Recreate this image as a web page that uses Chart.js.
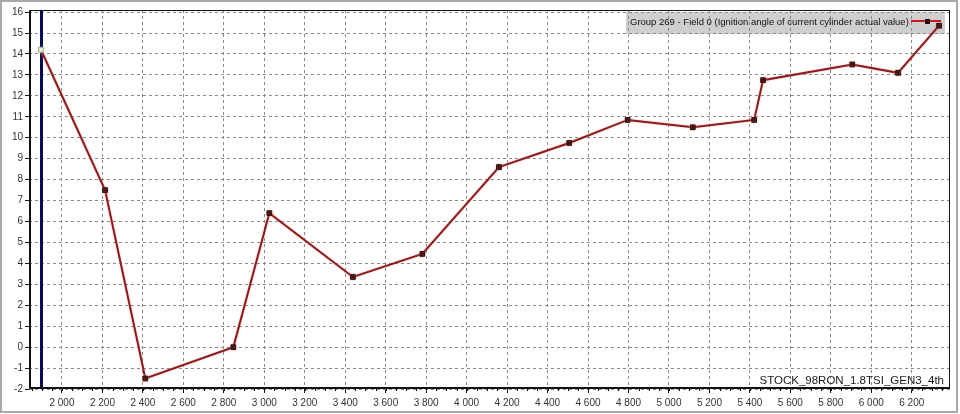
<!DOCTYPE html>
<html>
<head>
<meta charset="utf-8">
<script src="https://cdn.jsdelivr.net/npm/chart.js@4.4.0/dist/chart.umd.min.js"></script>
<style>
	body { margin: 0; background: #fff; }
	canvas { display: block; }
</style>
</head>
<body>
<canvas id="myChart" width="960" height="414"></canvas>
<script>
// engine speed (rpm) and ignition angle
var rpm = [1896, 2213, 2412, 2847, 3025, 3438, 3781, 4160, 4507, 4796, 5118, 5421, 5465, 5906, 6132, 6335];
var ignitionAngle = [14.2, 7.5, -1.5, 0.0, 6.4, 3.35, 4.45, 8.6, 9.75, 10.85, 10.5, 10.85, 12.75, 13.5, 13.1, 15.35];

var xTicks = [2000, 2200, 2400, 2600, 2800, 3000, 3200, 3400, 3600, 3800, 4000, 4200, 4400, 4600, 4800, 5000, 5200, 5400, 5600, 5800, 6000, 6200];
var yTicks = [-2, -1, 0, 1, 2, 3, 4, 5, 6, 7, 8, 9, 10, 11, 12, 13, 14, 15, 16];

var legendLabel = "Group 269 - Field 0 (Ignition angle of current cylinder actual value)";
var runLabel = "STOCK_98RON_1.8TSI_GEN3_4th";
var cursorRpm = rpm[0];

var FONT = "'Liberation Sans', Arial, sans-serif";

function fmtRpm(v) {
	return String(v).replace(/\B(?=(\d{3})+(?!\d))/g, " ");
}

var decor = {
	id: "decor",
	beforeDraw: function (chart) {
		var ctx = chart.ctx, a = chart.chartArea;
		ctx.save();
		ctx.fillStyle = "#fff";
		ctx.fillRect(0, 0, chart.width, chart.height);
		// window frame
		ctx.strokeStyle = "#a8a8a8";
		ctx.lineWidth = 2;
		ctx.strokeRect(1, 1, chart.width - 4, chart.height - 3);
		// legend box (grid shows through it)
		ctx.fillStyle = "#cfcfcf";
		ctx.fillRect(626, a.top + 2, a.right - 5 - 626, 22);
		ctx.restore();
	},
	beforeDatasetsDraw: function (chart) {
		var ctx = chart.ctx, a = chart.chartArea, x = chart.scales.x;
		ctx.save();
		ctx.strokeStyle = "#0b0b55";
		ctx.lineWidth = 3;
		var cx = Math.round(x.getPixelForValue(cursorRpm)) + 0.5;
		ctx.beginPath();
		ctx.moveTo(cx, a.top);
		ctx.lineTo(cx, a.bottom);
		ctx.stroke();
		ctx.restore();
	},
	beforeDatasetDraw: function (chart) {
		var ctx = chart.ctx;
		ctx.save();
		ctx.shadowColor = "rgba(240,150,150,0.7)";
		ctx.shadowBlur = 2;
	},
	afterDatasetDraw: function (chart) {
		chart.ctx.restore();
	},
	afterDraw: function (chart) {
		var ctx = chart.ctx, a = chart.chartArea, x = chart.scales.x;
		ctx.save();
		// plot frame
		ctx.strokeStyle = "#111";
		ctx.lineWidth = 1;
		ctx.strokeRect(a.left + 0.5, a.top + 0.5, a.right - a.left - 1, a.bottom - a.top - 1);
		ctx.lineWidth = 2;
		ctx.beginPath();
		ctx.moveTo(a.left + 1, a.top);
		ctx.lineTo(a.left + 1, a.bottom);
		ctx.moveTo(a.left, a.bottom - 1);
		ctx.lineTo(a.right, a.bottom - 1);
		ctx.stroke();
		// minor ticks on rpm axis
		ctx.lineWidth = 1;
		ctx.beginPath();
		for (var v = 1850; v <= 6350; v += 50) {
			var px = Math.round(x.getPixelForValue(v)) + 0.5;
			ctx.moveTo(px, a.bottom - 2);
			ctx.lineTo(px, a.bottom + 2);
		}
		ctx.stroke();
		// legend text + sample
		ctx.fillStyle = "#111";
		ctx.font = "9.5px " + FONT;
		ctx.textBaseline = "middle";
		ctx.textAlign = "left";
		ctx.fillText(legendLabel, 630, a.top + 12);
		ctx.strokeStyle = "#c81e1e";
		ctx.lineWidth = 2;
		ctx.beginPath();
		ctx.moveTo(911, a.top + 11);
		ctx.lineTo(941, a.top + 11);
		ctx.stroke();
		ctx.fillStyle = "#2a0606";
		ctx.fillRect(925, a.top + 9, 5, 5);
		// run name
		ctx.font = "11.5px " + FONT;
		ctx.textAlign = "right";
		ctx.fillStyle = "#1a1a1a";
		ctx.fillText(runLabel, a.right - 6, a.bottom - 8);
		ctx.restore();
	},
};

var pointFill = rpm.map(function (v, i) { return i === 0 ? "#f4fff4" : "#2a0606"; });
var pointEdge = rpm.map(function (v, i) { return i === 0 ? "#8fbc8f" : "#2a0606"; });

var ctx = document.getElementById("myChart").getContext("2d");
var myChart = new Chart(ctx, {
	type: "line",
	data: {
		datasets: [
			{
				label: legendLabel,
				data: rpm.map(function (v, i) { return { x: v, y: ignitionAngle[i] }; }),
				borderColor: "#8a1c1c",
				borderWidth: 2,
				pointStyle: "rect",
				pointRadius: 3.3,
				pointBackgroundColor: pointFill,
				pointBorderColor: pointEdge,
				pointBorderWidth: 1,
				tension: 0,
				fill: false,
			},
		],
	},
	options: {
		responsive: false,
		animation: false,
		devicePixelRatio: 1,
		layout: { padding: { left: 0, top: 10, right: 10, bottom: 0 } },
		plugins: {
			legend: { display: false },
			tooltip: { enabled: false },
		},
		scales: {
			x: {
				type: "linear",
				min: 1837,
				max: 6389,
				afterBuildTicks: function (scale) {
					scale.ticks = xTicks.map(function (v) { return { value: v }; });
				},
				afterFit: function (scale) { scale.height = 25; },
				grid: {
					color: "#8a8a8a",
					tickColor: "#111",
					tickLength: 4,
				},
				border: { display: false, dash: [3, 3] },
				ticks: {
					color: "#333",
					font: { family: FONT, size: 10 },
					padding: 4,
					maxRotation: 0,
					autoSkip: false,
					callback: function (v) { return fmtRpm(v); },
				},
			},
			y: {
				min: -2,
				max: 16.1,
				afterBuildTicks: function (scale) {
					scale.ticks = yTicks.map(function (v) { return { value: v }; });
				},
				afterFit: function (scale) { scale.width = 29; },
				grid: {
					color: "#8a8a8a",
					tickColor: "#111",
					tickLength: 4,
				},
				border: { display: false, dash: [3, 3] },
				ticks: {
					color: "#333",
					font: { family: FONT, size: 10 },
					padding: 2,
					autoSkip: false,
				},
			},
		},
	},
	plugins: [decor],
});
</script>
</body>
</html>
